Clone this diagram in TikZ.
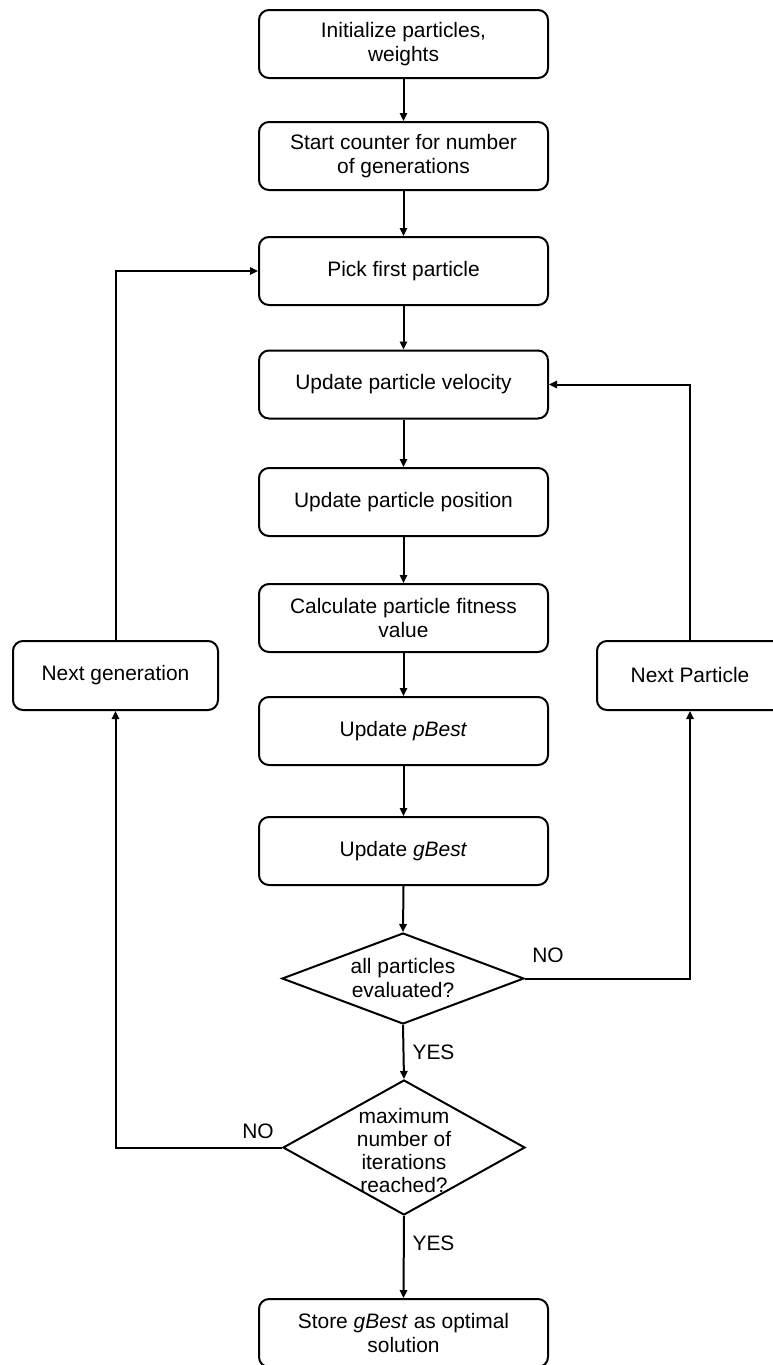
\documentclass[tikz,border=0pt]{standalone}
\usepackage{fontspec}
\setmainfont{Liberation Sans}
\usetikzlibrary{shapes.geometric,arrows.meta}

\begin{document}
\begin{tikzpicture}[x=0.75pt,y=-0.75pt,
  font=\fontsize{15.7}{18}\selectfont,
  stepbox/.style={draw, rounded corners=7.5pt, line width=1.5pt,
    minimum width=216.75pt, minimum height=51pt, align=center, inner sep=0pt},
  sidebox/.style={stepbox, minimum height=51.75pt},
  decision/.style={draw, diamond, line width=1.5pt, inner sep=0pt,
    minimum width=181.5pt},
  arr/.style={line width=1.5pt, -{Triangle[length=6pt,width=5.5pt]}},
  flowline/.style={line width=1.5pt}
]
\useasboundingbox (0,0) rectangle (773,1365);

% main column
\node[stepbox] (b1) at (403.5,44)  {Initialize particles,\\weights};
\node[stepbox] (b2) at (403.5,156) {Start counter for number\\of generations};
\node[stepbox] (b3) at (403.5,271) {Pick first particle};
\node[stepbox] (b4) at (403.5,384.5) {Update particle velocity};
\node[stepbox] (b5) at (403.5,502) {Update particle position};
\node[stepbox] (b6) at (403.5,618) {Calculate particle fitness\\value};
\node[stepbox] (b7) at (403.5,731) {Update \textit{pBest}};
\node[stepbox] (b8) at (403.5,851) {Update \textit{gBest}};

% decisions
\node[decision, minimum height=68.25pt] (d1) at (403,978.5) {};
\node[align=center] (d1t) at (d1) {all particles\\evaluated?};
\node[decision, minimum height=101.25pt] (d2) at (404,1147.5) {};
\node[align=center, font=\fontsize{15.7}{17.25}\selectfont] (d2t) at (404,1151)
  {maximum\\number of\\iterations\\reached?};

% final step
\node[stepbox] (b9) at (403.5,1333) {Store \textit{gBest} as optimal\\solution};

% loop boxes
\node[sidebox, minimum width=153.75pt] (ng) at (115.5,675.5) {Next generation};
\node[sidebox, minimum width=139.5pt] (np) at (690,675.5) {Next Particle};

% straight flow
\draw[arr] (b1.south) -- (b2.north);
\draw[arr] (b2.south) -- (b3.north);
\draw[arr] (b3.south) -- (b4.north);
\draw[arr] (b4.south) -- (b5.north);
\draw[arr] (b5.south) -- (b6.north);
\draw[arr] (b6.south) -- (b7.north);
\draw[arr] (b7.south) -- (b8.north);
\draw[arr] (b8.south) -- (d1.north);
\draw[arr] (d1.south) -- (d2.north);
\draw[arr] (d2.south) -- (b9.north);

% loops
\draw[arr] (d1.east) -| (np.south);
\draw[arr] (np.north) |- (b4.east);
\draw[arr] (d2.west) -| (ng.south);
\draw[arr] (ng.north) |- (b3.west);

% branch labels
\node (no1) at (548,955) {NO};
\node (no2) at (258,1131) {NO};
\node (yes1) at (433.5,1052) {YES};
\node (yes2) at (433.5,1243) {YES};
\end{tikzpicture}
\end{document}
